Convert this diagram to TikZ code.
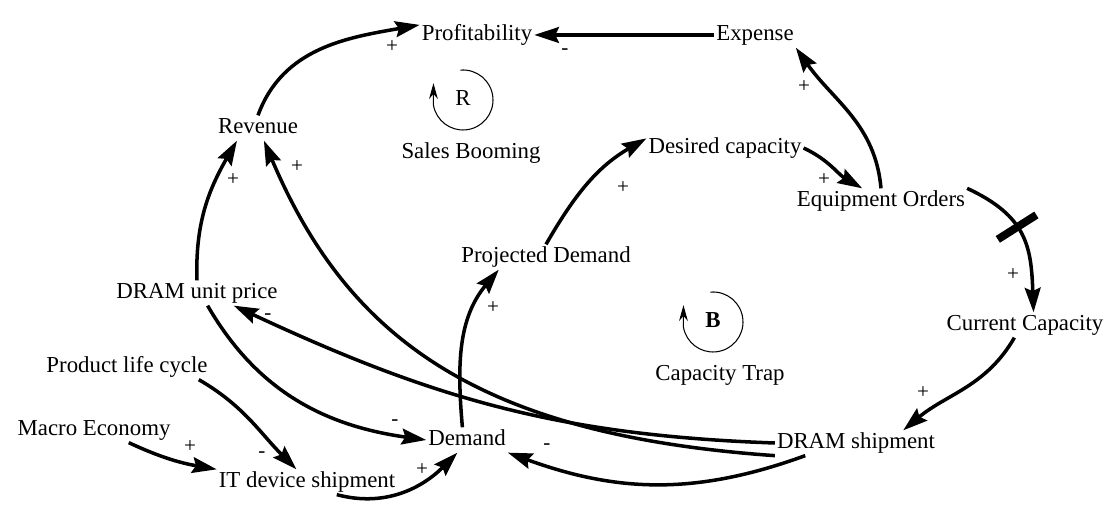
\documentclass[tikz,border=0pt]{standalone}
\usepackage{fontspec}
\setmainfont{Liberation Serif}
\usepackage{tikz}
\usetikzlibrary{arrows.meta, calc}

\tikzset{
  var/.style={font=\fontsize{13}{15}\selectfont, inner sep=1pt, text height=9pt, text depth=3pt},
  link/.style={line width=2pt, -{Stealth[length=14pt,width=9pt,inset=2pt]}},
  sign/.style={font=\fontsize{12}{14}\selectfont, inner sep=0pt},
  loopsym/.style={line width=0.6pt, -{Stealth[length=9pt,width=5pt]}},
  delaybar/.style={sloped, fill=black, inner sep=0pt, minimum width=4.5pt, minimum height=26pt},
}

\begin{document}
\begin{tikzpicture}[x=0.02cm, y=0.02cm]
  \useasboundingbox (0,0) rectangle (1109,506);

  % Variables
  \node[var] (prof) at (477,471) {Profitability};
  \node[var] (exp) at (755,471) {Expense};
  \node[var] (rev) at (258,378) {Revenue};
  \node[var] (des) at (725,358) {Desired capacity};
  \node[var] (eo) at (881,305) {Equipment Orders};
  \node[var] (proj) at (546,249) {Projected Demand};
  \node[var] (cc) at (1025,181) {Current Capacity};
  \node[var] (price) at (197,213) {DRAM unit price};
  \node[var] (plc) at (127,139) {Product life cycle};
  \node[var] (macro) at (94,76) {Macro Economy};
  \node[var] (it) at (307,24) {IT device shipment};
  \node[var] (dem) at (467,66) {Demand};
  \node[var] (ship) at (856,63) {DRAM shipment};

  % Loops
  \node[var] (rl) at (463,406) {R};
  \node[var] (sb) at (471,353) {Sales Booming};
  \draw[loopsym] ($(rl)+(95:30)$) arc[start angle=95, end angle=-170, radius=30] -- ++(0,22);
  \node[var] (bl) at (713,184) {\textbf{B}};
  \node[var] (ct) at (720,131) {Capacity Trap};
  \draw[loopsym] ($(bl)+(95:30)$) arc[start angle=95, end angle=-170, radius=30] -- ++(0,22);

  % Links
  \draw[link] (rev.north) to[out=70,in=190] (prof.170);
  \draw[link] (exp.west) -- (prof.east);
  \draw[link] (eo.north) to[out=95,in=-55] (exp.south east);
  \draw[link] (des.east) to[out=-25,in=150] (eo.146);
  \draw[link] (proj.north) to[out=60,in=210] (des.173);
  \draw[link] (dem.110) to[out=95,in=230] (proj.195);
  \draw[link] (eo.north east) to[out=-25,in=92,looseness=1.2] node[delaybar,pos=0.42]{} (cc.56);
  \draw[link] (cc.-130) to[out=-120,in=40] (ship.15);
  \draw[link] (ship.-166) to[out=200,in=-20] (dem.south east);
  \draw[link] (ship.south west) .. controls (479,71) and (348,167) .. (rev.-65);
  \draw[link] (ship.west) to[out=178,in=-25] (price.-19);
  \draw[link] (price.north) to[out=92,in=-120] (rev.211);
  \draw[link] (price.-50) to[out=-60,in=172] (dem.west);
  \draw[link] (plc.-10) to[out=-30,in=135] (it.130);
  \draw[link] (macro.-20) to[out=-25,in=170] (it.north west);
  \draw[link] (it.-23) to[out=-15,in=-135] (dem.233);

  % Polarities
  \node[sign] (s1) at (392,459) {+};
  \node[sign] (s2) at (565,454) {-};
  \node[sign] (s3) at (804,419) {+};
  \node[sign] (s4) at (824,326) {+};
  \node[sign] (s5) at (623,318) {+};
  \node[sign] (s6) at (493,198) {+};
  \node[sign] (s7) at (1013,231) {+};
  \node[sign] (s8) at (923,113) {+};
  \node[sign] (s9) at (547,59) {-};
  \node[sign] (s10) at (297,339) {+};
  \node[sign] (s11) at (268,189) {-};
  \node[sign] (s12) at (233,326) {+};
  \node[sign] (s13) at (395,83) {-};
  \node[sign] (s14) at (262,51) {-};
  \node[sign] (s15) at (190,59) {+};
  \node[sign] (s16) at (422,36) {+};
\end{tikzpicture}
\end{document}
